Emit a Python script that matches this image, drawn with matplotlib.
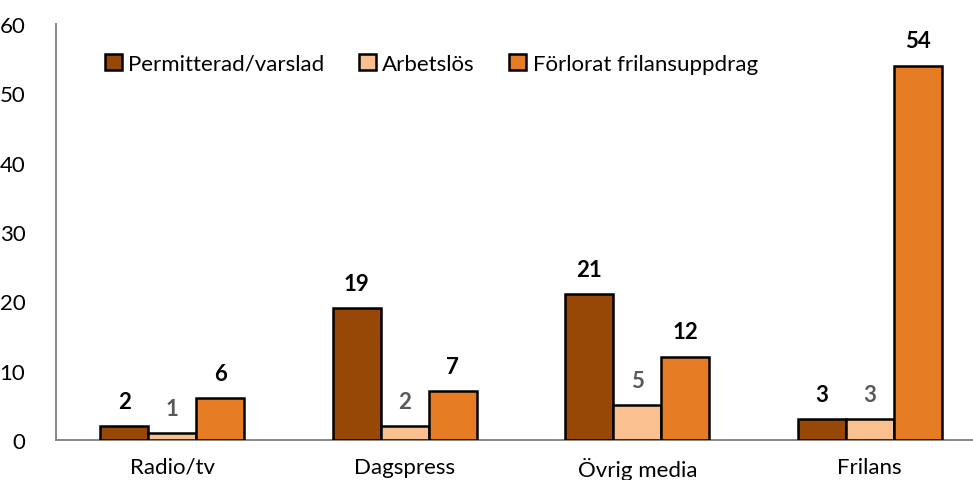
import numpy as np
import matplotlib
matplotlib.use("Agg")
import matplotlib.pyplot as plt

plt.rcParams['font.family'] = ['Lato', 'DejaVu Sans']

categories = ["Radio/tv", "Dagspress", "Övrig media", "Frilans"]
series_names = ["Permitterad/varslad", "Arbetslös", "Förlorat frilansuppdrag"]
permitterad = [2, 19, 21, 3]
arbetslos = [1, 2, 5, 3]
forlorat = [6, 7, 12, 54]

COLORS = ["#974706", "#FAC090", "#E67C24"]
LABEL_COLORS = ["black", "#595959", "black"]
BAR_W = 0.207
AXIS_GRAY = "#868686"
FS = 16

W, H = 973, 481
fig = plt.figure(figsize=(W / 100, H / 100), dpi=100)
# axes extend a little past the right edge, like the original crop
left, right, top, bottom = 56, 986, 25, 441
ax = fig.add_axes([left / W, 1 - bottom / H, (right - left) / W, (bottom - top) / H])

x = np.arange(len(categories))
all_series = [permitterad, arbetslos, forlorat]
for i, vals in enumerate(all_series):
    pos = x + (i - 1) * BAR_W
    ax.bar(pos, vals, width=BAR_W, color=COLORS[i], edgecolor="black",
           linewidth=1.8, label=series_names[i], zorder=3)
    for xp, v in zip(pos, vals):
        ax.annotate(str(v), (xp, v), xytext=(0, 18), textcoords="offset points",
                    ha="center", va="center", fontsize=FS, fontweight="bold",
                    color=LABEL_COLORS[i])

ax.set_xlim(-0.5, 3.5)
ax.set_ylim(0, 60)
ax.set_yticks(range(0, 61, 10))
ax.set_xticks(x)
ax.set_xticklabels(categories)
ax.tick_params(axis="both", length=0, labelsize=FS, colors="black")
ax.tick_params(axis="x", pad=12)
ax.tick_params(axis="y", pad=22)

for s in ["top", "right"]:
    ax.spines[s].set_visible(False)
for s in ["left", "bottom"]:
    ax.spines[s].set_color(AXIS_GRAY)
    ax.spines[s].set_linewidth(1.4)

leg = ax.legend(loc="upper left", bbox_to_anchor=(0.043, 0.95), ncol=3,
                frameon=False, fontsize=FS, handlelength=0.75, handleheight=0.75,
                handletextpad=0.3, columnspacing=1.55, borderaxespad=0)

fig.savefig("out.png", dpi=100)
